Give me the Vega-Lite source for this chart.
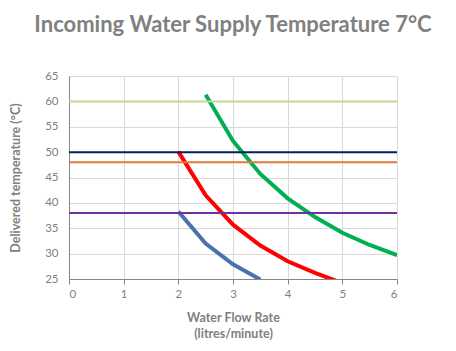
{
  "$schema": "https://vega.github.io/schema/vega-lite/v6.json",
  "width": 328,
  "height": 203,
  "autosize": {"type": "none"},
  "padding": {"left": 69, "top": 76, "right": 59, "bottom": 72},
  "background": "white",
  "config": {
    "font": "Lato",
    "view": {"stroke": null},
    "axis": {
      "labelColor": "#808080",
      "titleColor": "#808080",
      "labelFont": "Lato",
      "titleFont": "Lato",
      "labelFontSize": 11.5,
      "titleFontSize": 12.5,
      "titleFontWeight": "bold",
      "gridColor": "#D9D9D9",
      "gridWidth": 1,
      "domainColor": "#868686",
      "tickColor": "#868686"
    }
  },
  "title": {
    "text": "Incoming Water Supply Temperature 7°C",
    "font": "Lato",
    "fontSize": 22,
    "fontWeight": "bold",
    "color": "#808080",
    "anchor": "middle",
    "frame": "group",
    "offset": 33
  },
  "datasets": {
    "curves": [
      {"flow": 2.0, "temp": 38.3, "series": "Blue"},
      {"flow": 2.5, "temp": 32.0, "series": "Blue"},
      {"flow": 3.0, "temp": 27.9, "series": "Blue"},
      {"flow": 3.5, "temp": 24.9, "series": "Blue"},
      {"flow": 2.0, "temp": 50.1, "series": "Red"},
      {"flow": 2.5, "temp": 41.5, "series": "Red"},
      {"flow": 3.0, "temp": 35.7, "series": "Red"},
      {"flow": 3.5, "temp": 31.6, "series": "Red"},
      {"flow": 4.0, "temp": 28.5, "series": "Red"},
      {"flow": 4.5, "temp": 26.2, "series": "Red"},
      {"flow": 5.0, "temp": 24.2, "series": "Red"},
      {"flow": 2.5, "temp": 61.3, "series": "Green"},
      {"flow": 3.0, "temp": 52.2, "series": "Green"},
      {"flow": 3.5, "temp": 45.7, "series": "Green"},
      {"flow": 4.0, "temp": 40.9, "series": "Green"},
      {"flow": 4.5, "temp": 37.2, "series": "Green"},
      {"flow": 5.0, "temp": 34.1, "series": "Green"},
      {"flow": 5.5, "temp": 31.7, "series": "Green"},
      {"flow": 6.0, "temp": 29.7, "series": "Green"}
    ],
    "limits": [
      {"flow": 0, "temp": 60, "series": "L60"},
      {"flow": 6, "temp": 60, "series": "L60"},
      {"flow": 0, "temp": 50, "series": "L50"},
      {"flow": 6, "temp": 50, "series": "L50"},
      {"flow": 0, "temp": 48, "series": "L48"},
      {"flow": 6, "temp": 48, "series": "L48"},
      {"flow": 0, "temp": 38, "series": "L38"},
      {"flow": 6, "temp": 38, "series": "L38"}
    ]
  },
  "encoding": {
    "x": {
      "field": "flow",
      "type": "quantitative",
      "scale": {"domain": [0, 6], "nice": false},
      "axis": {
        "title": ["Water Flow Rate", "(litres/minute)"],
        "titlePadding": 12,
        "titleLineHeight": 16,
        "values": [0, 0.5, 1, 1.5, 2, 2.5, 3, 3.5, 4, 4.5, 5, 5.5, 6],
        "format": "d",
        "labelExpr": "datum.value % 1 === 0 ? datum.label : ''",
        "tickSize": 5,
        "labelPadding": 4,
        "grid": true
      }
    },
    "y": {
      "field": "temp",
      "type": "quantitative",
      "scale": {"domain": [25, 65], "nice": false, "zero": false},
      "axis": {
        "title": "Delivered temperature (°C)",
        "values": [25, 30, 35, 40, 45, 50, 55, 60, 65],
        "ticks": false,
        "labelPadding": 11,
        "titlePadding": 22,
        "grid": true
      }
    }
  },
  "layer": [
    {
      "data": {"name": "curves"},
      "mark": {"type": "line", "strokeWidth": 4, "clip": true, "strokeCap": "butt"},
      "encoding": {
        "color": {
          "field": "series",
          "type": "nominal",
          "scale": {"domain": ["Blue", "Red", "Green"], "range": ["#4A72AC", "#FF0000", "#00B050"]},
          "legend": null
        }
      }
    },
    {
      "data": {"name": "limits"},
      "mark": {"type": "line", "strokeWidth": 2, "clip": true},
      "encoding": {
        "color": {
          "field": "series",
          "type": "nominal",
          "scale": {"domain": ["L60", "L50", "L48", "L38"], "range": ["#C3D69B", "#002060", "#E07B39", "#7030A0"]},
          "legend": null
        }
      }
    }
  ],
  "resolve": {"scale": {"color": "independent"}}
}
